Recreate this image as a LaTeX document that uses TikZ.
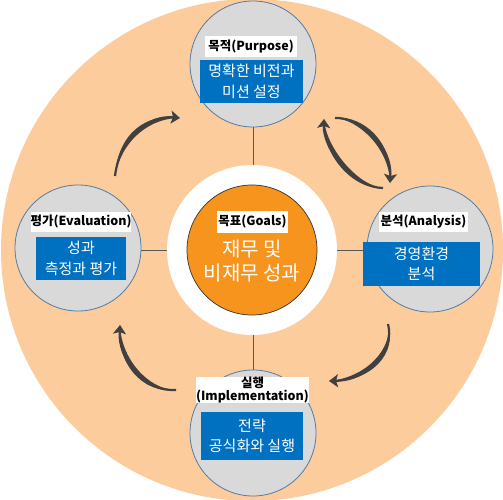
\documentclass[tikz,border=0pt]{standalone}
\usepackage{fontspec}
\setmainfont{Noto Sans CJK KR}
\usetikzlibrary{arrows.meta}
\definecolor{peach}{RGB}{252,204,156}
\definecolor{orng}{RGB}{247,148,29}
\definecolor{bluebox}{RGB}{0,112,192}
\definecolor{graycirc}{RGB}{217,217,217}
\definecolor{rimblue}{RGB}{84,124,164}
\definecolor{arrowgray}{RGB}{64,64,64}
\tikzset{
  satellite/.style={circle,draw=rimblue,line width=0.8pt,fill=graycirc,minimum size=126pt,inner sep=0pt},
  labelbox/.style={fill=white,inner sep=0pt,font=\bfseries\fontsize{12.5}{14}\selectfont,text=black,align=center},
  bluebox/.style={fill=bluebox,inner sep=0pt,text=white,font=\fontsize{15}{20.5}\selectfont,align=center},
  crossline/.style={draw=black!65,line width=0.6pt},
  cyclearrow/.style={draw=arrowgray,line width=2.2pt,-{Stealth[length=9pt,width=13pt,inset=2pt]}},
  arrowbody/.style={fill=arrowgray}
}
\begin{document}
\begin{tikzpicture}[x=1pt,y=-1pt]
\useasboundingbox (0,0) rectangle (503,500);
\fill[white] (0,0) rectangle (503,500);
\fill[peach] (252,250) circle[radius=251];
\coordinate (ctr) at (252,250);
\node[satellite] (top) at (253,64) {};
\node[satellite] (left) at (78,248) {};
\node[satellite] (right) at (430,249) {};
\node[satellite] (bottom) at (253,433) {};
\draw[crossline] (left.east |- ctr) -- (right.west |- ctr);
\draw[crossline] (top.south) -- (bottom.north);
\node[circle,fill=white,minimum size=170pt,inner sep=0pt] (ring) at (ctr) {};
\node[circle,fill=orng,draw=black!80,line width=0.7pt,minimum size=130pt,inner sep=0pt] (goal) at (ctr) {};
% center texts
\node[labelbox,minimum width=71pt,minimum height=22pt] (goallab) at (252.5,222) {목표(Goals)};
\node[text=white,font=\fontsize{20}{23.5}\selectfont,align=center] (goaltxt) at (252,261) {재무 및\\비재무 성과};
% top
\node[labelbox,minimum width=92pt,minimum height=21pt] (toplab) at (251,46.5) {목적(Purpose)};
\node[bluebox,minimum width=103pt,minimum height=43pt] (topbox) at (251.5,81.5) {명확한 비전과\\미션 설정};
% left
\node[labelbox,minimum width=98pt,minimum height=20pt] (leftlab) at (81,221.5) {평가(Evaluation)};
\node[bluebox,minimum width=90pt,minimum height=43pt] (leftbox) at (81,258.5) {성과\\측정과 평가};
% right
\node[labelbox,minimum width=89pt,minimum height=20pt] (rightlab) at (423.5,221.5) {분석(Analysis)};
\node[bluebox,minimum width=117pt,minimum height=44pt] (rightbox) at (421.5,264) {경영환경\\분석};
% bottom
\node[labelbox,minimum width=95pt,minimum height=26pt,font=\bfseries\fontsize{12.5}{12.5}\selectfont] (botlab) at (252.5,390) {실행\\(Implementation)};
\node[bluebox,minimum width=102pt,minimum height=48pt] (botbox) at (252,436) {전략\\공식화와 실행};
% cycle arrows (tapered bodies + tips)
\coordinate (a1s) at (115,176); \coordinate (a1e) at (180,118);
\coordinate (a2s) at (335,118); \coordinate (a2e) at (390,183);
\coordinate (a3s) at (383,188); \coordinate (a3e) at (324,119);
\coordinate (a4s) at (388,324); \coordinate (a4e) at (329,381);
\coordinate (a5s) at (176,390); \coordinate (a5e) at (120,325);
\fill[arrowbody] (a1s) .. controls (122.3,137.6) and (152.3,117.6) .. (a1e) .. controls (147.7,112.4) and (117.7,132.4) .. (a1s) -- cycle;
\fill[arrowbody] (a2s) .. controls (362.7,114.7) and (394.7,142.7) .. (a2e) .. controls (389.3,147.3) and (357.3,119.3) .. (a2s) -- cycle;
\fill[arrowbody] (a3s) .. controls (357.7,185.7) and (325.7,147.7) .. (a3e) .. controls (320.3,152.3) and (352.3,190.3) .. (a3s) -- cycle;
\fill[arrowbody] (a4s) .. controls (397.4,352.5) and (372.4,382.5) .. (a4e) .. controls (367.6,377.5) and (392.6,347.5) .. (a4s) -- cycle;
\fill[arrowbody] (a5s) .. controls (147.7,389.7) and (120.7,357.7) .. (a5e) .. controls (115.3,362.3) and (142.3,394.3) .. (a5s) -- cycle;
\draw[cyclearrow] (a1s) .. controls (120,135) and (150,115) .. (a1e);
\draw[cyclearrow] (a2s) .. controls (360,117) and (392,145) .. (a2e);
\draw[cyclearrow] (a3s) .. controls (355,188) and (323,150) .. (a3e);
\draw[cyclearrow] (a4s) .. controls (395,350) and (370,380) .. (a4e);
\draw[cyclearrow] (a5s) .. controls (145,392) and (118,360) .. (a5e);
\end{tikzpicture}
\end{document}
